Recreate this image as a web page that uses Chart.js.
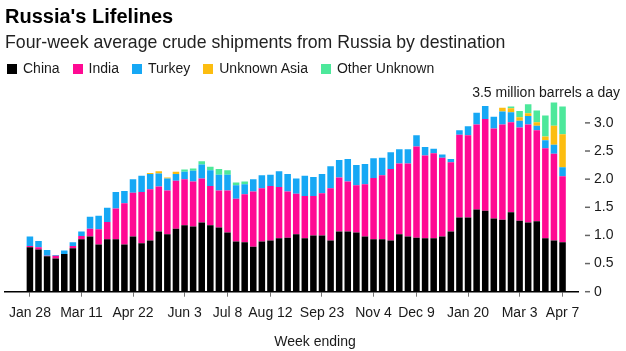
<!DOCTYPE html>
<html>
<head>
<meta charset="utf-8">
<script src="https://cdn.jsdelivr.net/npm/chart.js@4.4.1/dist/chart.umd.min.js"></script>
<style>
  html, body { margin: 0; padding: 0; background: #fff; }
  #wrap { position: relative; width: 626px; height: 351px; }
  #legend { position: absolute; left: 7px; top: 61px; display: flex; align-items: center;
            font: 14px 'Liberation Sans', Arial, sans-serif; color: #1a1a1a; line-height: 15px; white-space: nowrap; }
  #legend .item { display: flex; align-items: center; margin-right: 13px; }
  #legend .sw { width: 10px; height: 10px; margin-right: 6px; }
</style>
</head>
<body>
<div id="wrap">
  <canvas id="c"></canvas>
  <div id="legend"></div>
</div>
<script>
const titleText = "Russia's Lifelines";
const subtitleText = "Four-week average crude shipments from Russia by destination";
const unitLabel = "3.5 million barrels a day";
const axisTitle = "Week ending";

const weeks = ['Jan 28','Feb 4','Feb 11','Feb 18','Feb 25','Mar 4','Mar 11','Mar 18','Mar 25','Apr 1',
  'Apr 8','Apr 15','Apr 22','Apr 29','May 6','May 13','May 20','May 27','Jun 3','Jun 10',
  'Jun 17','Jun 24','Jul 1','Jul 8','Jul 15','Jul 22','Jul 29','Aug 5','Aug 12','Aug 19',
  'Aug 26','Sep 2','Sep 9','Sep 16','Sep 23','Sep 30','Oct 7','Oct 14','Oct 21','Oct 28',
  'Nov 4','Nov 11','Nov 18','Nov 25','Dec 2','Dec 9','Dec 16','Dec 23','Dec 30','Jan 6',
  'Jan 13','Jan 20','Jan 27','Feb 3','Feb 10','Feb 17','Feb 24','Mar 3','Mar 10','Mar 17',
  'Mar 24','Mar 31','Apr 7'];

const tickLabels = ['Jan 28','Mar 11','Apr 22','Jun 3','Jul 8','Aug 12','Sep 23','Nov 4','Dec 9','Jan 20','Mar 3','Apr 7'];
const yTickValues = [0, 0.5, 1.0, 1.5, 2.0, 2.5, 3.0, 3.5];

const china = [0.79,0.75,0.63,0.59,0.67,0.77,0.93,0.98,0.84,0.93,
  0.93,0.84,0.98,0.86,0.91,1.07,1.02,1.12,1.18,1.16,
  1.23,1.18,1.14,1.05,0.89,0.88,0.80,0.89,0.91,0.95,
  0.96,1.02,0.95,1.00,1.00,0.91,1.07,1.07,1.05,0.98,
  0.93,0.93,0.91,1.02,0.98,0.96,0.95,0.95,0.98,1.07,
  1.32,1.32,1.46,1.44,1.30,1.28,1.41,1.26,1.23,1.25,
  0.95,0.91,0.88];
const india = [0.02,0.04,0.01,0.05,0.00,0.04,0.06,0.14,0.27,0.31,
  0.55,0.73,0.78,0.91,0.91,0.80,0.78,0.85,0.82,0.80,
  0.78,0.70,0.66,0.75,0.76,0.85,0.98,0.95,0.97,0.91,
  0.82,0.72,0.75,0.70,0.75,0.93,0.96,0.89,0.84,0.93,
  1.09,1.14,1.27,1.26,1.30,1.62,1.47,1.51,1.40,1.23,
  1.47,1.46,1.51,1.63,1.60,1.69,1.60,1.66,1.74,1.62,
  1.60,1.54,1.17];
const turkey = [0.17,0.11,0.10,0.01,0.06,0.07,0.08,0.21,0.24,0.25,
  0.29,0.22,0.24,0.29,0.27,0.23,0.21,0.12,0.13,0.19,
  0.25,0.28,0.28,0.28,0.24,0.18,0.22,0.23,0.20,0.28,
  0.31,0.27,0.36,0.34,0.34,0.39,0.31,0.40,0.36,0.36,
  0.35,0.31,0.30,0.25,0.25,0.20,0.15,0.08,0.06,0.06,
  0.08,0.16,0.21,0.23,0.21,0.23,0.18,0.12,0.15,0.08,
  0.14,0.16,0.16];
const unknownAsia = [0,0,0,0,0,0,0,0,0,0,
  0,0,0,0,0.02,0.04,0.02,0.04,0,0,
  0,0,0,0,0,0,0,0,0,0,
  0,0,0,0,0,0,0,0,0,0,
  0,0,0,0,0,0,0,0,0,0,
  0,0,0,0,0,0.07,0.07,0.06,0.05,0.06,
  0.07,0.34,0.59];
const otherUnknown = [0,0,0,0,0,0,0,0,0,0,
  0,0,0,0,0,0,0,0,0.04,0.04,
  0.06,0.06,0.10,0.08,0.05,0.05,0,0,0,0,
  0,0,0,0,0,0,0,0,0,0,
  0,0,0,0,0,0,0,0,0,0,
  0,0,0,0,0,0,0.03,0.11,0.16,0.21,
  0.37,0.41,0.49];

const series = [
  { label: 'China', data: china, color: '#000000' },
  { label: 'India', data: india, color: '#ff0a93' },
  { label: 'Turkey', data: turkey, color: '#16a8f5' },
  { label: 'Unknown Asia', data: unknownAsia, color: '#fcbd10' },
  { label: 'Other Unknown', data: otherUnknown, color: '#4de89b' }
];

const FONT = "'Liberation Sans', Arial, sans-serif";
Chart.defaults.font.family = FONT;

const xTickIdx = tickLabels.map(l => weeks.indexOf(l));
const toPoints = arr => arr.map((v, i) => ({ x: i, y: v }));

// HTML legend
const legendEl = document.getElementById('legend');
series.forEach(s => {
  const it = document.createElement('div');
  it.className = 'item';
  const sw = document.createElement('span');
  sw.className = 'sw';
  sw.style.background = s.color;
  const tx = document.createElement('span');
  tx.textContent = s.label;
  it.appendChild(sw); it.appendChild(tx);
  legendEl.appendChild(it);
});

const extras = {
  id: 'extras',
  afterDraw(chart) {
    const { ctx, chartArea, scales: { y } } = chart;
    ctx.save();
    ctx.strokeStyle = '#666';
    ctx.lineWidth = 1.5;
    yTickValues.slice(0, -1).forEach(v => {
      const py = y.getPixelForValue(v);
      ctx.beginPath();
      ctx.moveTo(chartArea.right + 7, py);
      ctx.lineTo(chartArea.right + 12, py);
      ctx.stroke();
    });
    ctx.fillStyle = '#1a1a1a';
    ctx.font = '14px ' + FONT;
    ctx.textBaseline = 'middle';
    ctx.textAlign = 'right';
    ctx.fillText(unitLabel, chart.width - 6, y.getPixelForValue(yTickValues[yTickValues.length - 1]) - 2);
    ctx.textAlign = 'center';
    ctx.fillText(axisTitle, chart.width / 2 + 2, chart.height - 9);
    ctx.restore();
  }
};

new Chart(document.getElementById('c'), {
  type: 'bar',
  data: {
    datasets: series.map(s => ({
      label: s.label,
      data: toPoints(s.data),
      backgroundColor: s.color,
      borderWidth: 0,
      categoryPercentage: 1,
      barPercentage: 0.76
    }))
  },
  options: {
    responsive: true,
    maintainAspectRatio: false,
    animation: false,
    devicePixelRatio: 1,
    layout: { padding: { left: 5, right: 0, top: 0, bottom: 20.5 } },
    plugins: {
      legend: { display: false },
      tooltip: { enabled: false },
      title: {
        display: true, text: titleText, align: 'start', color: '#000',
        font: { size: 20, weight: 'bold' }, padding: { top: 5, bottom: 2 }
      },
      subtitle: {
        display: true, text: subtitleText, align: 'start', color: '#222',
        font: { size: 17.7 }, padding: { top: 1, bottom: 41.5 }
      }
    },
    scales: {
      x: {
        type: 'linear',
        stacked: true,
        offset: false,
        bounds: 'data',
        min: -2.9,
        max: 63.8,
        grid: { display: true, offset: false, drawOnChartArea: false, drawTicks: true, tickLength: 5, color: '#777', lineWidth: 1 },
        border: { display: true, color: '#000', width: 1.5 },
        ticks: {
          autoSkip: false, maxRotation: 0, padding: 8.5, color: '#1a1a1a',
          font: { size: 14 },
          callback: v => (weeks[v] !== undefined ? weeks[v] : '')
        },
        afterBuildTicks: s => { s.ticks = xTickIdx.map(v => ({ value: v })); }
      },
      y: {
        position: 'right',
        stacked: true,
        min: 0,
        max: 3.5,
        grid: { display: false, drawTicks: false },
        border: { display: false },
        ticks: {
          stepSize: 0.5, padding: 16, color: '#1a1a1a', font: { size: 14 },
          callback: v => (v >= 3.5 ? '' : (v === 0 ? '0' : v.toFixed(1)))
        },
        afterFit: s => { s.width = 48; }
      }
    }
  },
  plugins: [extras]
});
</script>
</body>
</html>
